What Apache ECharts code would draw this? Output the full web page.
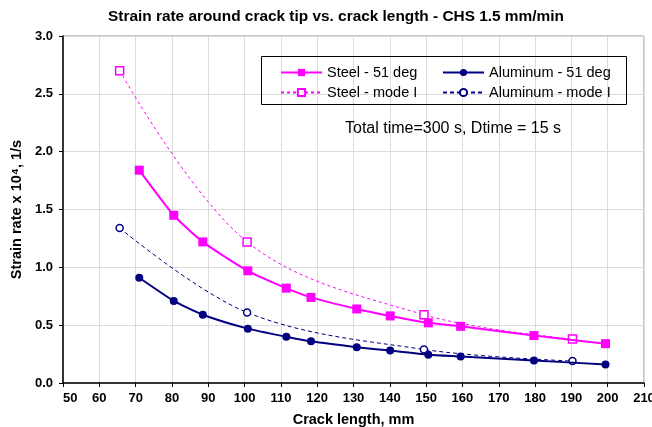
<!DOCTYPE html>
<html>
<head>
<meta charset="utf-8">
<script src="https://cdn.jsdelivr.net/npm/echarts@6/dist/echarts.min.js"></script>
<style>
  html, body { margin: 0; padding: 0; background: #fff; }
  #chart { width: 652px; height: 427px; }
</style>
</head>
<body>
<div id="chart"></div>
<script>
// crack length (mm) for the 51 deg runs
var crack51 = [71.0, 80.5, 88.5, 100.9, 111.5, 118.3, 130.9, 140.1, 150.6, 159.5, 179.7, 199.4];
var steel51 = [1.84, 1.45, 1.22, 0.97, 0.82, 0.74, 0.64, 0.58, 0.52, 0.49, 0.41, 0.34];
var alu51 = [0.91, 0.71, 0.59, 0.47, 0.40, 0.36, 0.31, 0.28, 0.245, 0.23, 0.195, 0.16];

// mode I runs
var crackModeI = [65.6, 100.7, 149.4, 190.3];
var steelModeI = [2.70, 1.22, 0.59, 0.38];
var aluModeI = [1.34, 0.61, 0.29, 0.19];

var titleText = 'Strain rate around crack tip vs. crack length - CHS 1.5 mm/min';
var noteText = 'Total time=300 s, Dtime = 15 s';

var MAG = '#ff00ff';
var NAVY = '#000080';
var FONT = 'Liberation Sans, Arial, sans-serif';

function pairs(xs, ys) {
    return xs.map(function (x, i) { return [x, ys[i]]; });
}

var chart = echarts.init(document.getElementById('chart'));

chart.setOption({
    animation: false,
    backgroundColor: '#fff',
    textStyle: { fontFamily: FONT },
    title: {
        text: titleText,
        left: 103,
        top: 4,
        textStyle: { fontSize: 15.4, fontWeight: 'bold', color: '#000', fontFamily: FONT }
    },
    grid: {
        left: 63, right: 8, top: 36, bottom: 44,
        outerBoundsMode: 'none',
        show: true, borderColor: '#8c8c8c', borderWidth: 1
    },
    legend: [{
        data: ['Steel - 51 deg', 'Steel - mode I'],
        orient: 'vertical',
        left: 275, top: 60,
        itemWidth: 41, itemHeight: 9, itemGap: 5,
        textStyle: { fontSize: 14.5, color: '#000', fontFamily: FONT }
    }, {
        data: ['Aluminum - 51 deg', 'Aluminum - mode I'],
        orient: 'vertical',
        left: 437, top: 60,
        itemWidth: 41, itemHeight: 9, itemGap: 5,
        textStyle: { fontSize: 14.5, color: '#000', fontFamily: FONT }
    }],
    graphic: [{
        type: 'rect',
        shape: { x: 261.5, y: 56.5, width: 365, height: 48 },
        style: { fill: 'none', stroke: '#000', lineWidth: 1 },
        z: 100
    }, {
        type: 'text',
        left: 345, top: 121,
        style: { text: noteText, fontSize: 16, fill: '#000', fontFamily: FONT },
        z: 100
    }],
    xAxis: {
        type: 'value',
        min: 50, max: 210, interval: 10,
        name: 'Crack length, mm',
        nameLocation: 'middle',
        nameGap: 29,
        nameTextStyle: { fontSize: 14.5, fontWeight: 'bold', color: '#000' },
        axisLine: { lineStyle: { color: '#000', width: 1.5 } },
        axisTick: { show: true, length: 4, lineStyle: { color: '#000' } },
        axisLabel: {
            fontSize: 13, fontWeight: 'bold', color: '#000', margin: 9,
            alignMinLabel: 'left'
        },
        splitLine: { show: true, lineStyle: { color: '#dcdcdc', width: 1 } }
    },
    yAxis: {
        type: 'value',
        min: 0, max: 3, interval: 0.5,
        name: 'Strain rate x 10\u2074, 1/s',
        nameLocation: 'middle',
        nameGap: 37,
        nameTextStyle: { fontSize: 14.5, fontWeight: 'bold', color: '#000' },
        axisLine: { show: true, lineStyle: { color: '#000', width: 1.5 } },
        axisTick: { show: true, length: 4, lineStyle: { color: '#000' } },
        axisLabel: {
            fontSize: 13, fontWeight: 'bold', color: '#000', margin: 10,
            formatter: function (v) { return v.toFixed(1); }
        },
        splitLine: { show: true, lineStyle: { color: '#dcdcdc', width: 1 } }
    },
    series: [{
        name: 'Steel - 51 deg',
        type: 'line',
        data: pairs(crack51, steel51),
        smooth: 0.2,
        symbol: 'rect',
        symbolSize: 9,
        itemStyle: { color: MAG },
        lineStyle: { color: MAG, width: 2 },
        z: 4
    }, {
        name: 'Steel - mode I',
        type: 'line',
        data: pairs(crackModeI, steelModeI),
        smooth: 0.35,
        symbol: 'rect',
        symbolSize: 8,
        showAllSymbol: true,
        itemStyle: { color: '#fff', borderColor: MAG, borderWidth: 1.5 },
        lineStyle: { color: MAG, width: 1, type: [3, 3] },
        z: 3
    }, {
        name: 'Aluminum - 51 deg',
        type: 'line',
        data: pairs(crack51, alu51),
        smooth: 0.2,
        symbol: 'circle',
        symbolSize: 8,
        itemStyle: { color: NAVY },
        lineStyle: { color: NAVY, width: 2 },
        z: 4
    }, {
        name: 'Aluminum - mode I',
        type: 'line',
        data: pairs(crackModeI, aluModeI),
        smooth: 0.35,
        symbol: 'circle',
        symbolSize: 7,
        itemStyle: { color: '#fff', borderColor: NAVY, borderWidth: 1.5 },
        lineStyle: { color: NAVY, width: 1, type: [4, 3] },
        z: 3
    }]
});
</script>
</body>
</html>
